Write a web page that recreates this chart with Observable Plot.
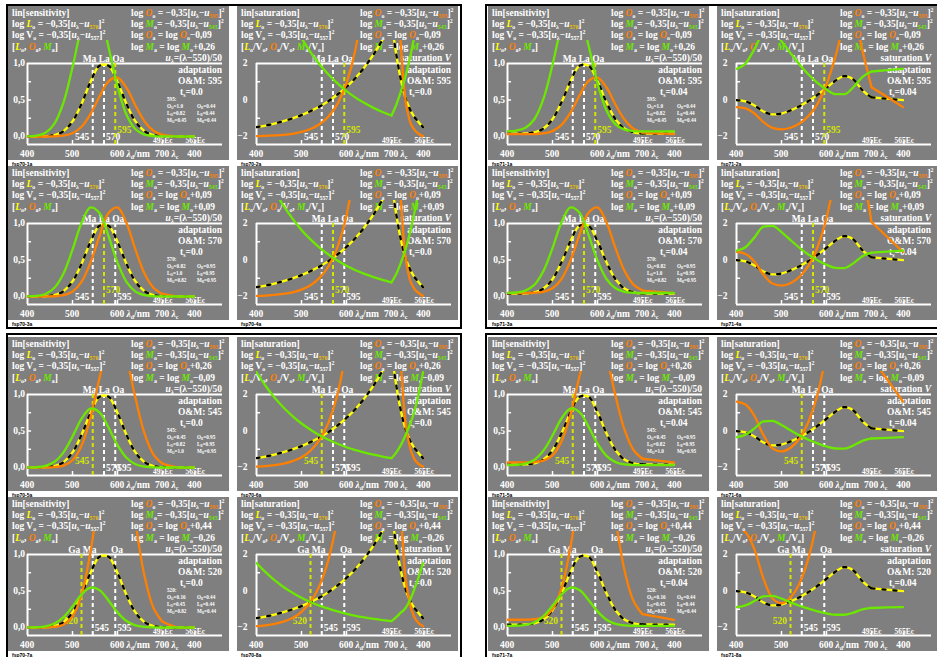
<!DOCTYPE html>
<html><head><meta charset="utf-8">
<script src="https://cdn.jsdelivr.net/npm/d3@7"></script>
<script src="https://cdn.jsdelivr.net/npm/@observablehq/plot@0.6"></script>
<style>
html,body{margin:0;padding:0;background:#fff;}
body{width:937px;height:657px;overflow:hidden;position:relative;}
.box{position:absolute;border:2px solid #000;box-sizing:border-box;}
.panel{position:absolute;width:221px;height:154px;}
.panel svg{display:block;}
.pid{position:absolute;font:bold 5px "Liberation Sans",Arial,sans-serif;color:#000;white-space:nowrap;}
</style></head><body>
<div class="box" style="left:6px;top:4px;width:456px;height:325px"></div>
<div class="box" style="left:485px;top:4px;width:470px;height:325px"></div>
<div class="box" style="left:6px;top:333px;width:456px;height:340px"></div>
<div class="box" style="left:485px;top:333px;width:470px;height:340px"></div>
<script>
// ---------- wavelength grids ----------
const lam = [400,420,440,460,480,500,520,540,560,580,600,620,640,660,680,700];
const lamC2 = [735, 770];                         // compensatory range (t_s = 0.04 and sensitivity)
const lamC7 = [710, 720, 730, 740, 750, 760, 770]; // compensatory range (saturation, t_s = 0.0)

// ---------- sensitivity, t_s = 0.0 ----------
const sensL_t0    = [0.0001,0.0007,0.0043,0.0202,0.0735,0.206,0.447,0.748,0.968,0.968,0.748,0.447,0.206,0.0735,0.0202,0.0043];
const sensO595_t0 = [0,0.0001,0.0003,0.0023,0.0115,0.0443,0.133,0.307,0.548,0.756,0.806,0.665,0.424,0.208,0.079,0.023];
const sensM595_t0 = [0.002,0.0118,0.052,0.177,0.466,0.948,1.489,1.805,1.693,1.227,0.686,0.297,0.099,0.026,0.005,0.001];
const sensO570_t0 = [0,0.0001,0.0005,0.0034,0.0173,0.067,0.2,0.464,0.829,1.144,1.22,1.006,0.641,0.315,0.12,0.035];
const sensM570_t0 = [0.0014,0.008,0.035,0.12,0.315,0.641,1.006,1.22,1.144,0.829,0.464,0.2,0.067,0.0173,0.0034,0.0005];
const sensO545_t0 = [0,0.0002,0.0007,0.0051,0.0257,0.099,0.297,0.686,1.227,1.693,1.805,1.489,0.948,0.466,0.177,0.052];
const sensM545_t0 = [0.0009,0.0053,0.0233,0.079,0.208,0.424,0.665,0.806,0.756,0.548,0.307,0.133,0.0443,0.0115,0.0023,0.0003];
const sensO520_t0 = [0,0.0003,0.0011,0.0077,0.0388,0.15,0.449,1.038,1.856,2.561,2.732,2.253,1.435,0.705,0.268,0.079];
const sensM520_t0 = [0.0006,0.0036,0.0157,0.0536,0.141,0.287,0.45,0.546,0.512,0.371,0.207,0.09,0.03,0.0078,0.0015,0.0002];
const sensC_t0    = [0, 0];

// ---------- sensitivity, t_s = 0.04 ----------
const sensL_ts    = [0.0385,0.0391,0.0426,0.0579,0.109,0.237,0.468,0.758,0.969,0.969,0.758,0.468,0.237,0.109,0.0579,0.0426];
const sensLc_ts   = [0.040, 0.0385];
const sensO595_ts = [0.0313,0.0314,0.0315,0.0335,0.0423,0.0739,0.159,0.326,0.559,0.759,0.807,0.671,0.439,0.232,0.107,0.054];
const sensOc595_ts= [0.043, 0.0313];
const sensM595_ts = [0.0719,0.0814,0.12,0.24,0.519,0.983,1.502,1.805,1.698,1.25,0.73,0.355,0.165,0.0946,0.075,0.0706];
const sensMc595_ts= [0.071, 0.0719];
const sensO570_ts = [0.0474,0.0475,0.0477,0.0507,0.064,0.112,0.24,0.493,0.845,1.148,1.22,1.015,0.664,0.351,0.162,0.081];
const sensOc570_ts= [0.064, 0.0474];
const sensM570_ts = [0.0486,0.055,0.0812,0.162,0.351,0.664,1.015,1.22,1.148,0.845,0.493,0.24,0.112,0.064,0.0507,0.0477];
const sensMc570_ts= [0.048, 0.0486];
const sensO545_ts = [0.0701,0.0703,0.0706,0.075,0.0946,0.165,0.355,0.73,1.25,1.698,1.805,1.502,0.983,0.519,0.24,0.12];
const sensOc545_ts= [0.095, 0.0701];
const sensM545_ts = [0.0321,0.0363,0.0537,0.107,0.232,0.439,0.671,0.807,0.759,0.559,0.326,0.159,0.0739,0.0423,0.0335,0.0315];
const sensMc545_ts= [0.032, 0.0321];
const sensO520_ts = [0.106,0.106,0.107,0.113,0.143,0.25,0.537,1.104,1.892,2.569,2.732,2.272,1.487,0.785,0.364,0.182];
const sensOc520_ts= [0.144, 0.106];
const sensM520_ts = [0.0217,0.0246,0.0363,0.0726,0.157,0.297,0.454,0.546,0.513,0.378,0.221,0.107,0.05,0.0286,0.0227,0.0213];
const sensMc520_ts= [0.0215, 0.0217];

// ---------- saturation, t_s = 0.0 ----------
const satL_t0     = [-1.49,-1.40,-1.29,-1.16,-1.01,-0.83,-0.61,-0.36,-0.06,0.30,0.72,1.21,1.80,2.49,3.31,4.28];
const satLc_t0    = [2.6,1.2,0.2,-0.45,-0.9,-1.2,-1.49];
const satO595_t0  = [-1.98,-1.96,-1.94,-1.91,-1.85,-1.75,-1.59,-1.33,-0.90,-0.21,0.92,2.78,5.8,8,8,8];
const satOc595_t0 = [8,3.3,0.2,-1.1,-1.6,-1.85,-1.98];
const satM595_t0  = [8,8,6.6,5.36,4.31,3.40,2.62,1.96,1.40,0.91,0.49,0.13,-0.17,-0.43,-0.66,-0.85];
const satMc595_t0 = [-0.3,0.4,1.2,2.2,3.4,5,8];
const satO570_t0  = [-1.97,-1.95,-1.91,-1.86,-1.77,-1.62,-1.38,-0.98,-0.34,0.71,2.43,5.2,8,8,8,8];
const satOc570_t0 = [8,3.6,0.4,-1.0,-1.55,-1.8,-1.97];
const satM570_t0  = [5.9,4.78,3.80,2.98,2.27,1.65,1.13,0.68,0.30,-0.03,-0.32,-0.56,-0.76,-0.94,-1.09,-1.22];
const satMc570_t0 = [-0.8,-0.2,0.5,1.4,2.5,3.8,5.9];
const satO545_t0  = [-1.95,-1.92,-1.87,-1.79,-1.65,-1.44,-1.08,-0.49,0.46,2.01,4.55,8,8,8,8,8];
const satOc545_t0 = [8,4,0.7,-0.8,-1.5,-1.8,-1.95];
const satM545_t0  = [3.22,2.48,1.84,1.29,0.82,0.41,0.07,-0.23,-0.48,-0.70,-0.89,-1.05,-1.18,-1.30,-1.40,-1.49];
const satMc545_t0 = [-1.2,-0.8,-0.3,0.3,1.0,2.0,3.22];
const satO520_t0  = [-1.93,-1.88,-1.80,-1.68,-1.48,-1.14,-0.60,0.28,1.72,4.07,8,8,8,8,8,8];
const satOc520_t0 = [8,4.5,1.0,-0.6,-1.4,-1.75,-1.93];
const satM520_t0  = [1.53,1.03,0.59,0.22,-0.09,-0.37,-0.60,-0.80,-0.97,-1.12,-1.25,-1.36,-1.45,-1.53,-1.59,-1.65];
const satMc520_t0 = [-1.45,-1.2,-0.97,-0.55,0.05,0.75,1.53];

// ---------- saturation, t_s = 0.04 ----------
const satL_ts     = [-0.01,-0.08,-0.30,-0.63,-0.79,-0.74,-0.57,-0.34,-0.06,0.28,0.67,1.06,1.31,1.12,0.53,0.14];
const satLc_ts    = [0.07, -0.01];
const satO595_ts  = [-0.39,-0.46,-0.74,-1.21,-1.53,-1.61,-1.52,-1.29,-0.88,-0.21,0.84,2.39,4.14,4.62,2.69,0.70];
const satOc595_ts = [0.16, -0.39];
const satM595_ts  = [1.71,2.00,2.79,3.67,3.73,3.22,2.57,1.95,1.40,0.94,0.57,0.32,0.32,0.71,1.27,1.56];
const satMc595_ts = [1.64, 1.71];
const satO570_ts  = [0.44,0.33,-0.09,-0.81,-1.29,-1.40,-1.27,-0.92,-0.31,0.70,2.30,4.64,7.3,8,5.1,2.08];
const satOc570_ts = [1.26, 0.44];
const satM570_ts  = [0.51,0.70,1.24,1.83,1.87,1.53,1.09,0.67,0.30,-0.01,-0.26,-0.43,-0.44,-0.17,0.21,0.40];
const satMc570_ts = [0.46, 0.51];
const satO545_ts  = [1.61,1.45,0.82,-0.23,-0.95,-1.12,-0.92,-0.41,0.51,2.0,4.36,7.8,8,8,8,4.03];
const satOc545_ts = [2.82, 1.61];
const satM545_ts  = [-0.34,-0.21,0.14,0.53,0.56,0.33,0.04,-0.24,-0.48,-0.68,-0.85,-0.96,-0.97,-0.79,-0.54,-0.41];
const satMc545_ts = [-0.38, -0.34];
const satO520_ts  = [3.46,3.22,2.27,0.67,-0.41,-0.67,-0.36,0.41,1.80,4.05,7.6,8,8,8,8,7.1];
const satOc520_ts = [5.3, 3.46];
const satM520_ts  = [-0.88,-0.79,-0.55,-0.29,-0.27,-0.42,-0.62,-0.81,-0.97,-1.11,-1.22,-1.30,-1.30,-1.18,-1.01,-0.93];
const satMc520_ts = [-0.9, -0.88];

// ---------- labels ----------
const oms   = [595, 570, 545, 520];
const oOffs = ["−0,09", "+0,09", "+0,26", "+0,44"];
const mOffs = ["+0,26", "+0,09", "−0,09", "−0,26"];
const info595 = ["1.0","0.44","0.82","0.44","0.45","0.44"];
const info570 = ["0.82","0.95","1.0","0.95","0.82","0.95"];
const info545 = ["0.45","0.95","0.82","0.95","1.0","0.95"];
const info520 = ["0.16","0.44","0.45","0.44","0.82","0.44"];
const panelIds = ["fsp70-1a","fsp70-2a","fsp70-3a","fsp70-4a","fsp71-1a","fsp71-2a","fsp71-3a","fsp71-4a",
                  "fsp70-5a","fsp70-6a","fsp70-7a","fsp70-8a","fsp71-5a","fsp71-6a","fsp71-7a","fsp71-8a"];

// ---------- series tables built from the arrays ----------
const sensSeries = [
  {L:[sensL_t0,sensC_t0], O:[[sensO595_t0,sensC_t0],[sensO570_t0,sensC_t0],[sensO545_t0,sensC_t0],[sensO520_t0,sensC_t0]],
   M:[[sensM595_t0,sensC_t0],[sensM570_t0,sensC_t0],[sensM545_t0,sensC_t0],[sensM520_t0,sensC_t0]], xc: lamC2},
  {L:[sensL_ts,sensLc_ts], O:[[sensO595_ts,sensOc595_ts],[sensO570_ts,sensOc570_ts],[sensO545_ts,sensOc545_ts],[sensO520_ts,sensOc520_ts]],
   M:[[sensM595_ts,sensMc595_ts],[sensM570_ts,sensMc570_ts],[sensM545_ts,sensMc545_ts],[sensM520_ts,sensMc520_ts]], xc: lamC2}
];
const satSeries = [
  {L:[satL_t0,satLc_t0], O:[[satO595_t0,satOc595_t0],[satO570_t0,satOc570_t0],[satO545_t0,satOc545_t0],[satO520_t0,satOc520_t0]],
   M:[[satM595_t0,satMc595_t0],[satM570_t0,satMc570_t0],[satM545_t0,satMc545_t0],[satM520_t0,satMc520_t0]], xc: lamC7},
  {L:[satL_ts,satLc_ts], O:[[satO595_ts,satOc595_ts],[satO570_ts,satOc570_ts],[satO545_ts,satOc545_ts],[satO520_ts,satOc520_ts]],
   M:[[satM595_ts,satMc595_ts],[satM570_ts,satMc570_ts],[satM545_ts,satMc545_ts],[satM520_ts,satMc520_ts]], xc: lamC2}
];

// ---------- layout ----------
const colX = [8, 237, 488, 717];
const rowY = [6, 166, 337, 497];
const W = 221, H = 154, ML = 19, MR = 7, MT = 34, MB = 16;
const Y = "#ffff00", OR = "#ff8000", GR = "#6ce800", YG = "#d4e600", BG = "#7f7f7f";
const FONT = '"Liberation Serif","Times New Roman",serif';

function it(t, c) { return {t, c, i: true}; }
function sub(t, c) { return {t, c, s: "sub"}; }
function sup(t, c) { return {t, c, s: "sup"}; }

function addText(g, x, y, parts, o = {}) {
  const size = o.size || 9.5;
  const t = g.append("text").attr("x", x).attr("y", y)
    .attr("font-family", FONT).attr("font-weight", "bold").attr("font-size", size)
    .attr("fill", o.color || "#fff").attr("text-anchor", o.anchor || "start");
  for (const p of parts) {
    const q = typeof p === "string" ? {t: p} : p;
    const ts = t.append("tspan").text(q.t);
    if (q.c) ts.attr("fill", q.c);
    if (q.i) ts.attr("font-style", "italic");
    if (q.s === "sub") ts.attr("baseline-shift", (-size * 0.22).toFixed(2)).attr("font-size", size * 0.62);
    if (q.s === "sup") ts.attr("baseline-shift", (size * 0.38).toFixed(2)).attr("font-size", size * 0.62);
  }
  return t;
}

function build(xs, ys, xc, yc) {
  const d = xs.map((x, i) => ({x, y: ys[i], s: "d"}));
  const c = [{x: 700, y: ys[ys.length - 1], s: "c"}].concat(xc.map((x, i) => ({x, y: yc[i], s: "c"})));
  return d.concat(c);
}

function makePanel(idx) {
  const quad = Math.floor(idx / 4), k = idx % 4;
  const tsFlag = quad % 2;
  const bottom = quad >= 2;
  const row = (bottom ? 2 : 0) + Math.floor(k / 2);
  const col = tsFlag * 2 + (k % 2);
  const sens = (k % 2) === 0;
  const oi = (bottom ? 2 : 0) + Math.floor(k / 2);
  const om = oms[oi];
  const S = sens ? sensSeries[tsFlag] : satSeries[tsFlag];
  const yDom = sens ? [-0.1096, 1.3151] : [-2.438, 3.26];
  const top = sens ? 1 : 2, yMin = yDom[0];
  const pxU = sens ? 73 : 18.25;
  const lines = {
    L: build(lam, S.L[0], S.xc, S.L[1]),
    O: build(lam, S.O[oi][0], S.xc, S.O[oi][1]),
    M: build(lam, S.M[oi][0], S.xc, S.M[oi][1])
  };
  const curve = sens ? "catmull-rom" : "monotone-x";
  const dashX = om === 520 ? [520, 545, 595] : [545, 570, 595];
  const whiteDash = dashX.filter(v => v !== om);
  const lineOpt = (stroke, extra = {}) => Object.assign({x: "x", y: "y", z: "s", stroke, strokeWidth: 2.3, curve, clip: true}, extra);
  const plot = Plot.plot({
    width: W, height: H, marginLeft: ML, marginRight: MR, marginTop: MT, marginBottom: MB,
    x: {domain: [400, 400 + (W - ML - MR) / 0.45], axis: null},
    y: {domain: yDom, axis: null},
    style: {background: BG, overflow: "visible"},
    marks: [
      Plot.ruleY([top], {stroke: "#fff", strokeWidth: 2}),
      Plot.ruleY([yMin], {stroke: "#fff", strokeWidth: 2}),
      Plot.ruleX([400], {y1: yMin, y2: top, stroke: "#fff", strokeWidth: 2}),
      Plot.ruleY(sens ? [0.25, 0.5, 0.75] : [-1, 1], {x1: 400, x2: 409, stroke: "#fff", strokeWidth: 1.5}),
      Plot.ruleX([500, 600, 700, 772], {y1: yMin, y2: yMin + 4 / pxU, stroke: "#fff", strokeWidth: 1.5}),
      Plot.ruleX(whiteDash, {y1: yMin, y2: top, stroke: "#fff", strokeWidth: 2, strokeDasharray: "4,3"}),
      Plot.ruleX([om], {y1: yMin, y2: top, stroke: YG, strokeWidth: 2, strokeDasharray: "4,3"}),
      Plot.line(lines.L, lineOpt(Y)),
      Plot.line(lines.L, lineOpt("#000", {strokeDasharray: "3,8"})),
      Plot.line(lines.O, lineOpt(OR)),
      Plot.line(lines.M, lineOpt(GR))
    ]
  });
  const sx = v => plot.scale("x").apply(v);
  const sy = v => plot.scale("y").apply(v);
  const g = d3.select(plot).insert("g", ":first-child");

  addText(g, 4, 10, [sens ? "lin[sensitivity]" : "lin[saturation]"]);
  addText(g, 4, 21.2, ["log ", it("L", Y), sub("o"), " = −0,35[", it("u"), sub("λ"), "−", it("u"), sub("570", "#f0c000"), "]", sup("2")]);
  addText(g, 4, 32.4, ["log V", sub("o"), " = −0,35[", it("u"), sub("λ"), "−", it("u"), sub("557"), "]", sup("2")]);
  if (sens) addText(g, 4, 43.6, ["[", it("L", Y), sub("o"), ", ", it("O", OR), sub("a"), ", ", it("M", GR), sub("a"), "]"]);
  else addText(g, 4, 43.6, ["[", it("L", Y), sub("o"), "/V", sub("o"), ", ", it("O", OR), sub("a"), "/V", sub("o"), ", ", it("M", GR), sub("a"), "/V", sub("o"), "]"]);
  addText(g, 123, 10, ["log ", it("O", OR), sub("o"), " = −0,35[", it("u"), sub("λ"), "−", it("u"), sub("595", OR), "]", sup("2")]);
  addText(g, 123, 21.2, ["log ", it("M", GR), sub("o"), "= −0,35[", it("u"), sub("λ"), "−", it("u"), sub("545", GR), "]", sup("2")]);
  addText(g, 123, 32.4, ["log ", it("O", OR), sub("a"), " = log ", it("O", OR), sub("o"), oOffs[oi]]);
  addText(g, 123, 43.6, ["log ", it("M", GR), sub("a"), " = log ", it("M", GR), sub("o"), mOffs[oi]]);
  if (sens) addText(g, 214, 54.5, [it("u"), sub("λ"), "=(λ−550)/50"], {anchor: "end"});
  else addText(g, 214, 54.5, ["saturation ", it("V")], {anchor: "end"});
  addText(g, 214, 67, ["adaptation"], {anchor: "end"});
  addText(g, 214, 78, ["O&M: " + om], {anchor: "end"});
  addText(g, 172, 88.5, ["t", sub("s"), "=" + (tsFlag ? "0.04" : "0.0")]);

  if (sens) {
    const info = [info595, info570, info545, info520][oi];
    const sz = {size: 5.2};
    addText(g, 159, 95, [om + ":"], sz);
    ["O", "L", "M"].forEach((n, r) => {
      addText(g, 159, 102 + r * 7.2, [n, sub("O"), "=" + info[r * 2]], sz);
      addText(g, 189, 102 + r * 7.2, [n, sub("B"), "=" + info[r * 2 + 1]], sz);
    });
  }

  if (om === 520) {
    addText(g, sx(523), 55.5, ["Ga Ma"], {anchor: "middle"});
    addText(g, sx(600), 55.5, ["Oa"], {anchor: "middle"});
  } else {
    addText(g, sx(570), 55.5, ["Ma La Oa"], {anchor: "middle"});
  }
  dashX.forEach((v, j) => {
    const isOm = v === om;
    const yb = isOm ? 126.5 : 134;
    if (j === 0) addText(g, sx(v) - 3, yb, [String(v)], {anchor: "end", color: isOm ? YG : "#fff"});
    else addText(g, sx(v) + 2.5, yb, [String(v)], {color: isOm ? YG : "#fff"});
  });
  addText(g, sx(702), 137, ["495Ec"], {anchor: "middle", size: 7.5});
  addText(g, sx(774), 137, ["565Ec"], {anchor: "middle", size: 7.5});

  addText(g, sx(400), 150.5, ["400"], {anchor: "middle"});
  addText(g, sx(500), 150.5, ["500"], {anchor: "middle"});
  addText(g, sx(600) - 7.1, 150.5, ["600 ", it("λ"), sub("d"), "/nm"]);
  addText(g, sx(700) - 7.1, 150.5, ["700 ", it("λ"), sub("c")]);
  addText(g, sx(772), 150.5, ["400"], {anchor: "middle"});
  if (sens) {
    [[1, "1,0"], [0.5, "0,5"], [0, "0,0"]].forEach(([v, s]) => addText(g, 17, sy(v) + 3.4, [s], {anchor: "end"}));
  } else {
    [[2, "2"], [0, "0"], [-2, "−2"]].forEach(([v, s]) => addText(g, 10.5, sy(v) + 3.4, [s], {anchor: "end"}));
  }

  const div = document.createElement("div");
  div.className = "panel";
  div.style.left = colX[col] + "px";
  div.style.top = rowY[row] + "px";
  div.appendChild(plot);
  document.body.appendChild(div);

  const lab = document.createElement("div");
  lab.className = "pid";
  lab.textContent = panelIds[idx];
  lab.style.left = (colX[col] + 4) + "px";
  lab.style.top = (rowY[row] + H + 0.5) + "px";
  document.body.appendChild(lab);
}

for (let i = 0; i < 16; i++) makePanel(i);
</script>
</body></html>
